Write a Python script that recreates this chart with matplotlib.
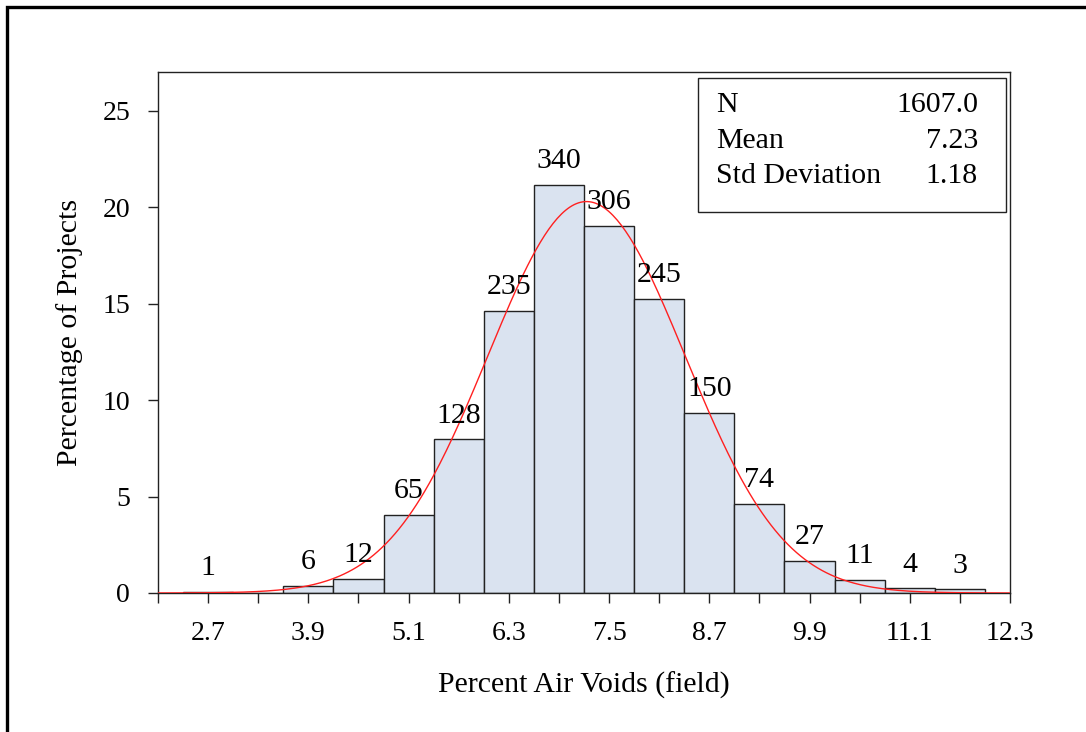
import numpy as np
import matplotlib
matplotlib.use("Agg")
import matplotlib.pyplot as plt
from matplotlib.patches import Rectangle

# field air void histogram, 0.6 wide bins
binEdges = [2.4, 3.0, 3.6, 4.2, 4.8, 5.4, 6.0, 6.6, 7.2, 7.8, 8.4, 9.0,
            9.6, 10.2, 10.8, 11.4, 12.0]
counts = [1, 0, 6, 12, 65, 128, 235, 340, 306, 245, 150, 74, 27, 11, 4, 3]
nTotal = 1607
meanVal = 7.23
stdVal = 1.18
xTicks = [2.7, 3.9, 5.1, 6.3, 7.5, 8.7, 9.9, 11.1, 12.3]
yTicks = [0, 5, 10, 15, 20, 25]

plt.rcParams['font.family'] = ['Liberation Serif', 'DejaVu Serif']

fig = plt.figure(figsize=(10.86, 7.32), dpi=100)
ax = fig.add_axes([158/1086, 1 - 593/732, 852/1086, 521/732])

edges = np.array(binEdges)
widths = np.diff(edges)
pct = np.array(counts) / nTotal * 100
ax.bar(edges[:-1], pct, width=widths, align='edge', color='#dae3f0',
       edgecolor='#222222', linewidth=1.0, zorder=2)

# count labels above each non-empty bar
for left, w, p, c in zip(edges[:-1], widths, pct, counts):
  if c == 0:
    continue
  ax.annotate(str(c), (left + w/2, p), xytext=(0, 12),
              textcoords='offset points', ha='center', va='baseline',
              fontsize=21.5, zorder=4)

# fitted normal curve, scaled to percent per bin
xs = np.linspace(2.1, 12.3, 400)
binW = widths[0]
ys = 100 * binW / (stdVal*np.sqrt(2*np.pi)) * np.exp(-0.5*((xs-meanVal)/stdVal)**2)
ax.plot(xs, ys, color='#ff2020', linewidth=1.0, zorder=3)

ax.set_xlim(2.1, 12.3)
ax.set_ylim(0, 27)
ax.set_xticks(xTicks)
ax.set_xticklabels([f"{t:.1f}" for t in xTicks])
ax.set_xticks(np.arange(2.1, 12.31, 0.6), minor=True)
ax.set_yticks(yTicks)
ax.tick_params(axis='both', which='both', direction='out', length=7,
               width=1, labelsize=20, color='#222222', pad=13)
for sp in ax.spines.values():
  sp.set_linewidth(1.0)
  sp.set_color('#222222')

ax.set_xlabel("Percent Air Voids (field)", fontsize=21.5, labelpad=19)
ax.set_ylabel("Percentage of Projects", fontsize=21.5, labelpad=14)

# summary statistics box
ax.add_patch(Rectangle((0.634, (593-212)/521), 0.361, (212-78)/521,
                       transform=ax.transAxes, facecolor='white',
                       edgecolor='#222222', linewidth=1.0, zorder=5))
statNames = ["N", "Mean", "Std Deviation"]
statVals = [f"{nTotal:.1f}", f"{meanVal:.2f}", f"{stdVal:.2f}"]
rowPix = [105, 141, 176]
for nm, v, yp in zip(statNames, statVals, rowPix):
  yy = (593 - yp) / 521
  ax.text(0.655, yy, nm, transform=ax.transAxes, ha='left', va='center',
          fontsize=21.5, zorder=6)
  ax.text(0.9624, yy, v, transform=ax.transAxes, ha='right', va='center',
          fontsize=21.5, zorder=6)

# outer frame round the figure
fig.add_artist(Rectangle((7/1086, -0.1), 1.2, 1 - 7/732 + 0.1,
                         transform=fig.transFigure, fill=False,
                         edgecolor='black', linewidth=2.4))

fig.savefig("out.png", dpi=100)
